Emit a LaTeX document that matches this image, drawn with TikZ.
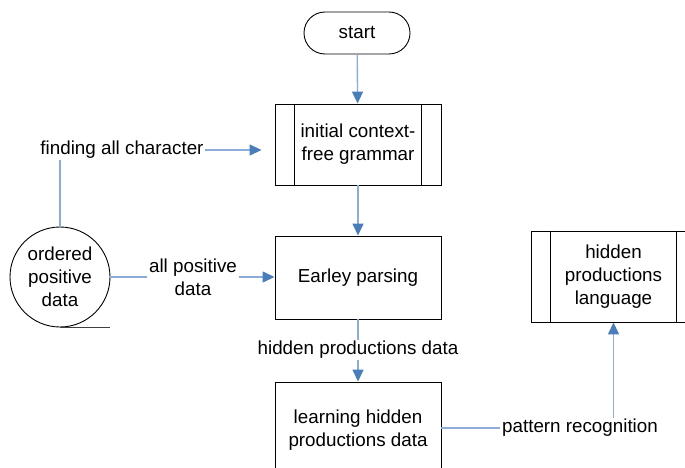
\documentclass[tikz,border=0pt]{standalone}
\usepackage{fontspec}
\setmainfont{Liberation Sans}
\usetikzlibrary{arrows.meta}
\definecolor{lineblue}{RGB}{140,172,218}
\definecolor{arrowblue}{RGB}{74,126,187}
\begin{document}
\begin{tikzpicture}[x=1pt,y=-1pt,
  every node/.style={font=\fontsize{18.8}{23}\selectfont, align=center},
  box/.style={draw=black, line width=0.9pt, minimum width=166pt, inner sep=0pt},
  lbl/.style={inner sep=1.5pt},
  conn/.style={draw=lineblue, line width=1.4pt},
  arr/.style={conn, -{Triangle[length=12pt,width=11pt,color=arrowblue]}}]
\clip (0,0) rectangle (685,468);
\fill[white] (0,0) rectangle (685,468);
% nodes
\node[box, rounded corners=21pt, minimum width=106pt, minimum height=42pt] (start) at (357,33) {start};
\node[box, minimum height=81pt] (cfg) at (358,144.5) {initial context-\\free grammar};
\node[box, minimum height=83pt] (earley) at (358,277.5) {Earley parsing};
\node[box, minimum height=96pt] (learn) at (358,430) {learning hidden\\productions data};
\node[box, minimum width=165pt, minimum height=91pt] (hpl) at (613.5,276.5) {hidden\\productions\\language};
\node[circle, draw=black, line width=0.9pt, minimum size=100pt, inner sep=0pt] (opd) at (60,277) {ordered\\positive\\data};
% inner vertical lines of predefined-process boxes
\draw[line width=0.9pt] ([xshift=20pt]cfg.north west) -- ([xshift=20pt]cfg.south west);
\draw[line width=0.9pt] ([xshift=-20pt]cfg.north east) -- ([xshift=-20pt]cfg.south east);
\draw[line width=0.9pt] ([xshift=20pt]hpl.north west) -- ([xshift=20pt]hpl.south west);
\draw[line width=0.9pt] ([xshift=-20pt]hpl.north east) -- ([xshift=-20pt]hpl.south east);
% data store underline
\draw[line width=1.3pt, draw=black!75] (opd.south) -- ++(50,0);
% labels
\node[lbl] (fac) at (122,150) {finding all character};
\node[lbl] (apd) at (193,277) {all positive\\data};
\node[lbl] (hpd) at (358,350) {hidden productions data};
\node[lbl] (pr) at (580,428) {pattern recognition};
% connectors
\draw[arr] (start) -- (cfg);
\draw[arr] (cfg) -- (earley);
\draw[arr, shorten >=13pt] (fac.east) -- (fac.east -| cfg.west);
\draw[conn] (opd.north) -- (fac.south -| opd.north);
\draw[conn] (opd.east) -- (apd.west);
\draw[arr] (apd.east) -- (apd.east -| earley.west);
\draw[conn] (earley.south) -- (hpd.north);
\draw[arr] (hpd.south) -- (learn.north);
\draw[conn] (learn.east |- pr.west) -- (pr.west);
\draw[arr] (pr.north -| hpl.south) -- (hpl.south);
\end{tikzpicture}
\end{document}
